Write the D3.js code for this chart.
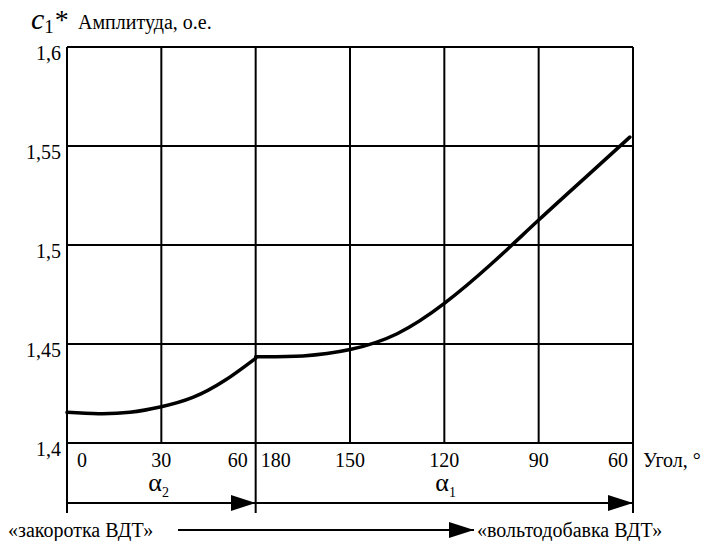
<!DOCTYPE html>
<html><head><meta charset="utf-8"><script src="https://cdn.jsdelivr.net/npm/d3@7"></script></head>
<body style="margin:0">
<script>
const yTicks = [1.4, 1.45, 1.5, 1.55, 1.6];
const alpha2Ticks = [0, 30, 60];
const alpha1Ticks = [180, 150, 120, 90, 60];

// c1* along alpha2 (0..60) then alpha1 (180..60)
const alpha2Angles = [0, 10, 20, 30, 40, 50, 60];
const alpha2Values = [1.4155, 1.4148, 1.4155, 1.4183, 1.4230, 1.4314, 1.4428];
const alpha1Angles = [180, 165, 150, 135, 120, 105, 90, 75, 61];
const alpha1Values = [1.4436, 1.4440, 1.4472, 1.4552, 1.4705, 1.4905, 1.5126, 1.5343, 1.5545];

const W = 719, H = 541;
const PLOT = { LEFT: 67, RIGHT: 633, TOP: 47, BOTTOM: 443 };
const FONT = '"Times New Roman"';

const pos2 = a => a / 30;
const pos1 = a => 2 + (180 - a) / 30;

const svg = d3.select("body").append("svg")
  .attr("width", W).attr("height", H);

const x = d3.scaleLinear().domain([0, 6]).range([PLOT.LEFT, PLOT.RIGHT]);
const y = d3.scaleLinear().domain([1.4, 1.6]).range([PLOT.BOTTOM, PLOT.TOP]);

const fmt = d => String(+d.toFixed(2)).replace(".", ",");

const label = (parent, size) => parent.append("text")
  .attr("font-family", FONT).attr("font-size", size);

// grid
const gridX = alpha2Ticks.map(pos2).concat(alpha1Ticks.slice(1).map(pos1));
svg.append("g").selectAll("line").data(gridX).join("line")
  .attr("x1", d => x(d)).attr("x2", d => x(d))
  .attr("y1", y(1.6)).attr("y2", y(1.4))
  .attr("stroke", "#000").attr("stroke-width", 2);

svg.append("g").selectAll("line").data(yTicks).join("line")
  .attr("x1", x(0)).attr("x2", x(6))
  .attr("y1", d => y(d)).attr("y2", d => y(d))
  .attr("stroke", "#000").attr("stroke-width", 2);

// extended verticals below the plot
[0, 2, 6].forEach(p => {
  svg.append("line")
    .attr("x1", x(p)).attr("x2", x(p))
    .attr("y1", y(1.4)).attr("y2", y(1.4) + 70)
    .attr("stroke", "#000").attr("stroke-width", 2);
});

// y labels
svg.append("g").selectAll("text").data(yTicks).join("text")
  .attr("font-family", FONT).attr("font-size", 20)
  .attr("x", x(0) - 6).attr("y", d => y(d) + 13)
  .attr("text-anchor", "end")
  .text(fmt);

// x labels
const xLabels = [
  { p: pos2(0), t: "0", a: "start", dx: 10 },
  { p: pos2(30), t: "30", a: "middle", dx: 0 },
  { p: pos2(60), t: "60", a: "end", dx: -8 },
  { p: pos1(180), t: "180", a: "start", dx: 5 },
  { p: pos1(150), t: "150", a: "middle", dx: 0 },
  { p: pos1(120), t: "120", a: "middle", dx: 0 },
  { p: pos1(90), t: "90", a: "middle", dx: 0 },
  { p: pos1(60), t: "60", a: "end", dx: -5 }
];
svg.append("g").selectAll("text").data(xLabels).join("text")
  .attr("font-family", FONT).attr("font-size", 20)
  .attr("x", d => x(d.p) + d.dx).attr("y", y(1.4) + 24)
  .attr("text-anchor", d => d.a)
  .text(d => d.t);

label(svg, 20).attr("x", 643).attr("y", y(1.4) + 24).text("Угол, °");

// title
const title = label(svg, 20).attr("x", 31).attr("y", 29);
title.append("tspan").attr("font-style", "italic").attr("font-size", 30).text("c");
title.append("tspan").attr("font-size", 19).attr("dy", 4).text("1");
title.append("tspan").attr("font-size", 28).attr("dy", -4).attr("dx", 1).text("*");
label(svg, 20).attr("x", 78).attr("y", 29).text("Амплитуда, о.е.");

// curve
const line = d3.line().x(d => x(d[0])).y(d => y(d[1])).curve(d3.curveNatural);
const seg2 = alpha2Angles.map((a, i) => [pos2(a), alpha2Values[i]]);
const seg1 = alpha1Angles.map((a, i) => [pos1(a), alpha1Values[i]]);
[seg2, seg1].forEach(seg => {
  svg.append("path").datum(seg).attr("d", line)
    .attr("fill", "none").attr("stroke", "#000").attr("stroke-width", 3.5)
    .attr("stroke-linecap", "round").attr("stroke-linejoin", "round");
});

// arrows
const defs = svg.append("defs");
defs.append("marker").attr("id", "head")
  .attr("viewBox", "0 0 25 16").attr("refX", 25).attr("refY", 8)
  .attr("markerWidth", 25).attr("markerHeight", 16)
  .attr("markerUnits", "userSpaceOnUse").attr("orient", "auto")
  .append("path").attr("d", "M0,0L25,8L0,16Z").attr("fill", "#000");

const arrowY = y(1.4) + 60;
svg.append("line").attr("x1", x(0)).attr("x2", x(2))
  .attr("y1", arrowY).attr("y2", arrowY)
  .attr("stroke", "#000").attr("stroke-width", 2).attr("marker-end", "url(#head)");
svg.append("line").attr("x1", x(2)).attr("x2", x(6))
  .attr("y1", arrowY).attr("y2", arrowY)
  .attr("stroke", "#000").attr("stroke-width", 2).attr("marker-end", "url(#head)");

// alpha labels
const a2 = label(svg, 26).attr("x", x(1) - 13).attr("y", y(1.4) + 48);
a2.append("tspan").text("α");
a2.append("tspan").attr("font-size", 14).attr("dy", 6).text("2");
const a1 = label(svg, 26).attr("x", x(4) - 9).attr("y", y(1.4) + 48);
a1.append("tspan").text("α");
a1.append("tspan").attr("font-size", 14).attr("dy", 6).text("1");

// bottom caption
label(svg, 20).attr("x", 8).attr("y", 537).text("«закоротка ВДТ»");
svg.append("line").attr("x1", 178).attr("x2", 474).attr("y1", 530).attr("y2", 530)
  .attr("stroke", "#000").attr("stroke-width", 2).attr("marker-end", "url(#head)");
label(svg, 20).attr("x", 477).attr("y", 537).text("«вольтодобавка ВДТ»");
</script>
</body></html>
